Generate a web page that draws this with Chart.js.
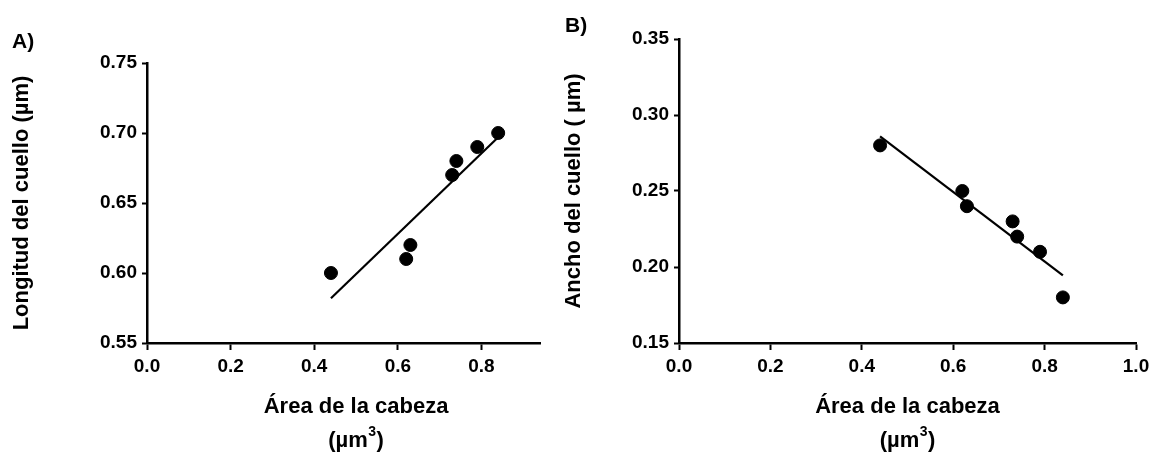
<!DOCTYPE html>
<html>
<head>
<meta charset="utf-8">
<script src="https://cdn.jsdelivr.net/npm/chart.js@4.4.1/dist/chart.umd.min.js"></script>
<style>
  body { margin: 0; background: #fff; }
  #wrap { position: relative; width: 1155px; height: 459px; }
  canvas { position: absolute; top: 0; }
</style>
</head>
<body>
<div id="wrap">
  <canvas id="chartA" width="560" height="459" style="left:0px"></canvas>
  <canvas id="chartB" width="595" height="459" style="left:560px"></canvas>
</div>
<script>
// data
var areaCabeza = [0.44, 0.62, 0.63, 0.73, 0.74, 0.79, 0.84];
var longitudCuello = [0.60, 0.61, 0.62, 0.67, 0.68, 0.69, 0.70];
var anchoCuello = [0.28, 0.25, 0.24, 0.23, 0.22, 0.21, 0.18];

// regression lines (end points)
var fitX = [0.44, 0.84];
var fitLongitud = [0.582, 0.697];
var fitAncho = [0.286, 0.1945];

// ticks
var xTicksA = [0, 0.2, 0.4, 0.6, 0.8];
var xTicksB = [0, 0.2, 0.4, 0.6, 0.8, 1.0];
var yTicksA = [0.55, 0.60, 0.65, 0.70, 0.75];
var yTicksB = [0.15, 0.20, 0.25, 0.30, 0.35];

var FAMILY = '"Liberation Sans", Arial, Helvetica, sans-serif';
var tickFont = { family: FAMILY, size: 19, weight: 'bold' };
var titleFont = { family: FAMILY, size: 22, weight: 'bold' };

var textPlugin = {
    id: 'panelText',
    afterDraw: function (chart, args, o) {
        var ctx = chart.ctx;
        ctx.save();
        ctx.fillStyle = '#000';
        ctx.font = 'bold 21px ' + FAMILY;
        ctx.textAlign = 'left';
        ctx.textBaseline = 'alphabetic';
        ctx.fillText(o.label, o.lx, o.ly);

        // x axis title, two lines, second with a superscript 3
        ctx.font = 'bold 22px ' + FAMILY;
        ctx.textAlign = 'center';
        var cx = chart.scales.x.getPixelForValue(0.5);
        ctx.fillText('Área de la cabeza', cx, 413);

        var supFont = 'bold 14px ' + FAMILY;
        var w1 = ctx.measureText('(µm').width;
        var w3 = ctx.measureText(')').width;
        ctx.font = supFont;
        var w2 = ctx.measureText('3').width + 1;
        var x0 = cx - (w1 + w2 + w3) / 2;
        ctx.textAlign = 'left';
        ctx.font = 'bold 22px ' + FAMILY;
        ctx.fillText('(µm', x0, 447);
        ctx.font = supFont;
        ctx.fillText('3', x0 + w1 + 0.5, 436);
        ctx.font = 'bold 22px ' + FAMILY;
        ctx.fillText(')', x0 + w1 + w2, 447);
        ctx.restore();
    }
};

var makePanel = function (id, o) {
    var pts = o.xs.map(function (x, i) { return { x: x, y: o.ys[i] }; });
    var line = fitX.map(function (x, i) { return { x: x, y: o.fit[i] }; });

    new Chart(document.getElementById(id), {
        type: 'scatter',
        data: {
            datasets: [{
                data: pts,
                pointRadius: 6.5,
                pointHoverRadius: 6.5,
                backgroundColor: '#000',
                borderColor: '#000',
                showLine: false
            }, {
                data: line,
                showLine: true,
                pointRadius: 0,
                borderColor: '#000',
                borderWidth: 2.2
            }]
        },
        options: {
            responsive: false,
            animation: false,
            layout: { padding: { top: o.padTop, right: o.padRight, left: 0, bottom: 0 } },
            plugins: {
                legend: { display: false },
                tooltip: { enabled: false },
                panelText: { label: o.label, lx: o.lx, ly: o.ly }
            },
            scales: {
                x: {
                    type: 'linear',
                    min: 0,
                    max: o.xMax,
                    afterFit: function (s) { s.height = 116; },
                    afterBuildTicks: function (s) { s.ticks = o.xTicks.map(function (v) { return { value: v }; }); },
                    ticks: {
                        callback: function (v) { return v.toFixed(1); },
                        font: tickFont, color: '#000', padding: 5, maxRotation: 0, autoSkip: false
                    },
                    grid: { drawOnChartArea: false, tickLength: 7, tickWidth: 2, color: '#000' },
                    border: { color: '#000', width: 2.5 }
                },
                y: {
                    type: 'linear',
                    min: o.yTicks[0],
                    max: o.yTicks[o.yTicks.length - 1],
                    afterFit: function (s) { s.width = o.yWidth; },
                    afterBuildTicks: function (s) { s.ticks = o.yTicks.map(function (v) { return { value: v }; }); },
                    ticks: {
                        callback: function (v) { return v.toFixed(2); },
                        font: tickFont, color: '#000', padding: 5, autoSkip: false
                    },
                    grid: { drawOnChartArea: false, tickLength: 5, tickWidth: 2, color: '#000' },
                    border: { color: '#000', width: 2.5 },
                    title: {
                        display: true,
                        text: o.yTitle,
                        font: titleFont,
                        color: '#000',
                        padding: { top: o.yTitlePad, bottom: 0 }
                    }
                }
            }
        },
        plugins: [textPlugin]
    });
};

makePanel('chartA', {
    xs: areaCabeza, ys: longitudCuello, fit: fitLongitud,
    xMax: 0.94, xTicks: xTicksA, yTicks: yTicksA,
    padTop: 63, padRight: 20, yWidth: 147, yTitlePad: 9,
    yTitle: 'Longitud del cuello (µm)',
    label: 'A)', lx: 12, ly: 48
});

makePanel('chartB', {
    xs: areaCabeza, ys: anchoCuello, fit: fitAncho,
    xMax: 1.0, xTicks: xTicksB, yTicks: yTicksB,
    padTop: 39, padRight: 19, yWidth: 119, yTitlePad: 1,
    yTitle: 'Ancho del cuello ( µm)',
    label: 'B)', lx: 5, ly: 32
});
</script>
</body>
</html>
